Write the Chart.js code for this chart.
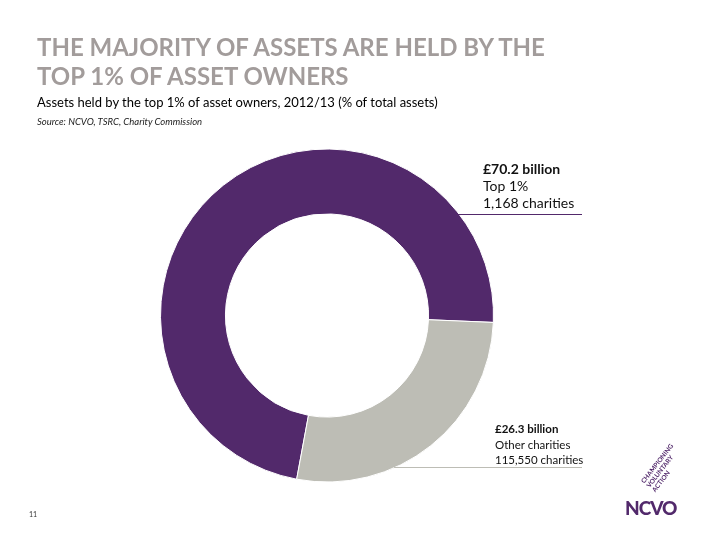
<!DOCTYPE html>
<html>
<head>
<meta charset="utf-8">
<script src="https://cdn.jsdelivr.net/npm/chart.js@4"></script>
<style>
  html, body { margin: 0; padding: 0; background: #fff; }
  #page { position: relative; width: 720px; height: 540px; overflow: hidden; font-family: Lato, "Open Sans", sans-serif; }
  #chart { position: absolute; left: 0; top: 0; }
  .title { position: absolute; left: 37px; top: 32px; font-size: 24px; font-weight: bold; color: #a29c9b; line-height: 29px; margin: 0; }
  .subtitle { position: absolute; left: 37px; top: 94px; font-size: 13px; color: #000; }
  .source { position: absolute; left: 37px; top: 116px; font-size: 9.5px; font-style: italic; color: #222; }
  .lbl { position: absolute; color: #111; }
  .lbl b { font-weight: bold; }
  #lbl0 { left: 483px; top: 160px; font-size: 14px; line-height: 17px; }
  #lbl1 { left: 495px; top: 421px; font-size: 11.5px; line-height: 15.5px; }
  .pagenum { position: absolute; left: 29px; top: 510px; font-size: 7px; color: #333; }
  .logo { position: absolute; left: 625px; top: 496px; font-size: 19px; font-weight: 900; color: #52296b; letter-spacing: -1px; }
  .tag { position: absolute; left: 656px; top: 472px; font-size: 6.5px; font-weight: bold; color: #52296b; line-height: 7px; transform: rotate(-52deg); transform-origin: left bottom; white-space: nowrap; }
</style>
</head>
<body>
<div id="page">
  <canvas id="chart" width="720" height="540"></canvas>
  <p class="title">THE MAJORITY OF ASSETS ARE HELD BY THE<br>TOP 1% OF ASSET OWNERS</p>
  <div class="subtitle">Assets held by the top 1% of asset owners, 2012/13 (% of total assets)</div>
  <div class="source">Source: NCVO, TSRC, Charity Commission</div>
  <div class="lbl" id="lbl0"></div>
  <div class="lbl" id="lbl1"></div>
  <div class="pagenum">11</div>
  <div class="tag">CHAMPIONING<br>VOLUNTARY<br>ACTION</div>
  <div class="logo">NCVO</div>
</div>
<script>
const groups = ['Top 1%', 'Other charities'];
const assetsBillion = [70.2, 26.3];
const charityCounts = ['1,168 charities', '115,550 charities'];
const colours = ['#52296b', '#bdbdb5'];

// label blocks on the right
groups.forEach((g, i) => {
  document.getElementById('lbl' + i).innerHTML =
    '<b>£' + assetsBillion[i].toFixed(1) + ' billion</b><br>' + g + '<br>' + charityCounts[i];
});

// leader lines running from the ring edge under each label
const leaderY = [214, 467];
const leaderLines = {
  id: 'leaderLines',
  afterDraw(chart) {
    const arc = chart.getDatasetMeta(0).data[0];
    const ctx = chart.ctx;
    leaderY.forEach((y, i) => {
      const dy = y - arc.y;
      const x0 = arc.x + Math.sqrt(Math.max(arc.outerRadius * arc.outerRadius - dy * dy, 0));
      ctx.save();
      ctx.strokeStyle = colours[i];
      ctx.lineWidth = 1;
      ctx.beginPath();
      ctx.moveTo(x0 - 2, y + 0.5);
      ctx.lineTo(582, y + 0.5);
      ctx.stroke();
      ctx.restore();
    });
  }
};

new Chart(document.getElementById('chart').getContext('2d'), {
  type: 'doughnut',
  data: {
    labels: groups,
    datasets: [{
      data: assetsBillion,
      backgroundColor: colours,
      borderColor: '#ffffff',
      borderWidth: 1
    }]
  },
  options: {
    responsive: false,
    animation: false,
    rotation: 190.5,
    cutout: '61%',
    layout: { padding: { left: 160, right: 226, top: 148, bottom: 57 } },
    plugins: {
      legend: { display: false },
      tooltip: { enabled: false }
    }
  },
  plugins: [leaderLines]
});
</script>
</body>
</html>
